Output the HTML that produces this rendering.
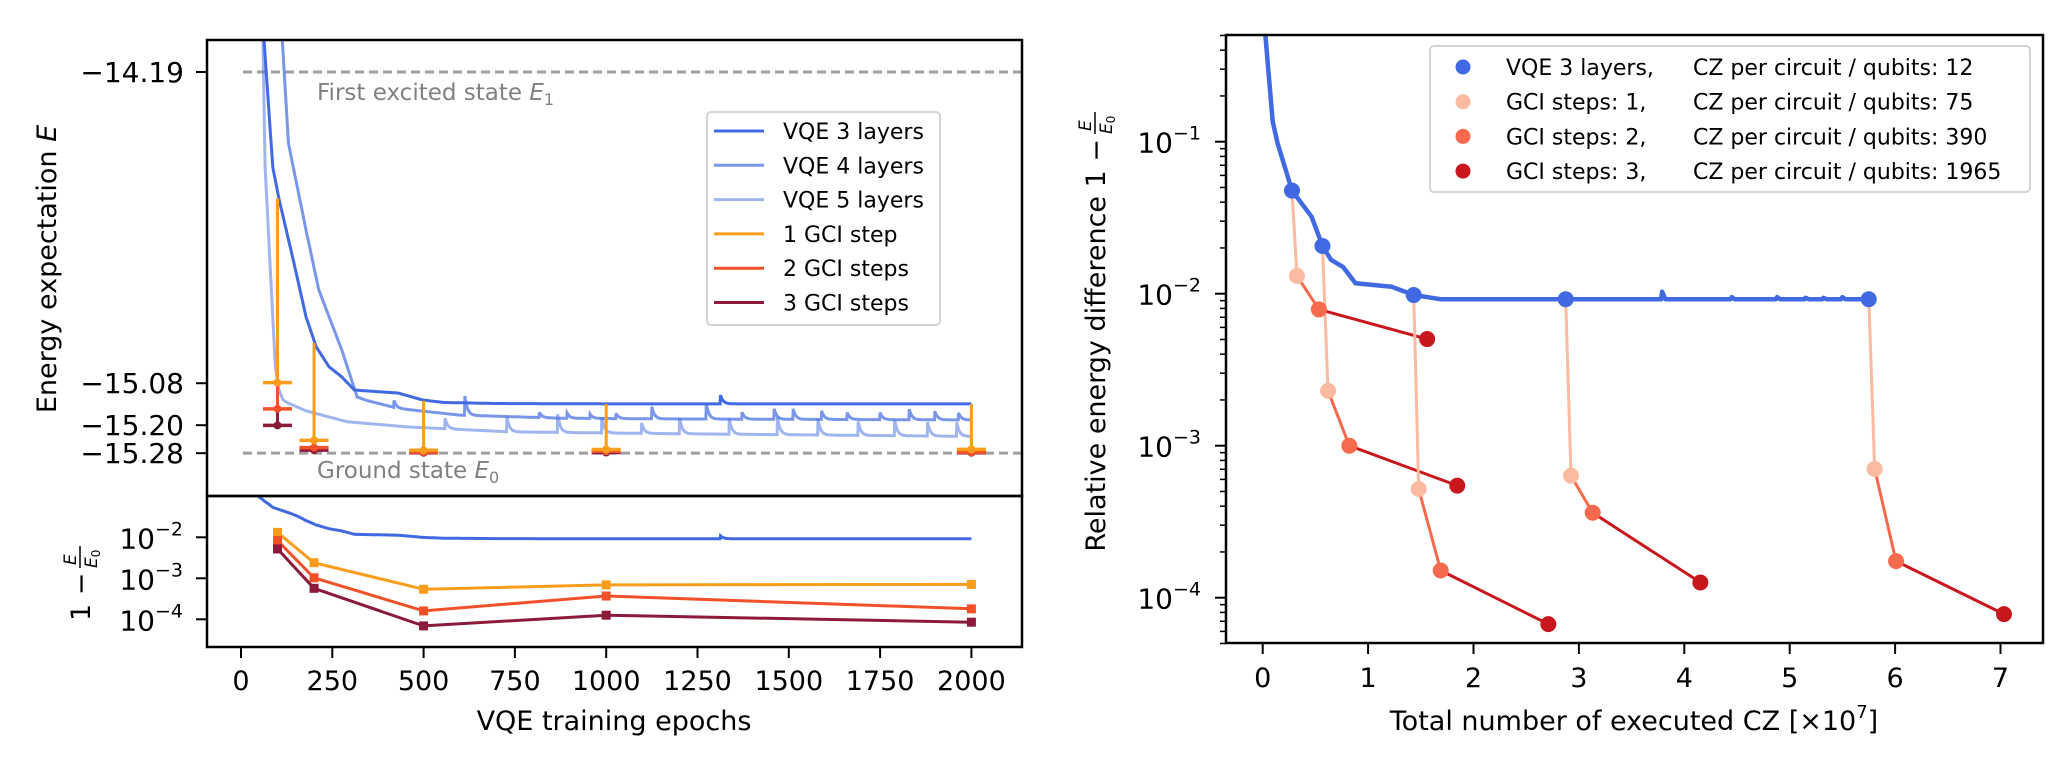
<!DOCTYPE html>
<html><head><meta charset="utf-8"><style>
html,body{margin:0;padding:0;background:#fff;}
svg{display:block;font-family:"DejaVu Sans","Liberation Sans",sans-serif;}
</style></head><body>
<svg id="fig" width="2053" height="759" viewBox="0 0 2053 759" xmlns="http://www.w3.org/2000/svg">
<defs>
<clipPath id="clipTL"><rect x="207" y="40" width="815" height="456"/></clipPath>
<clipPath id="clipBL"><rect x="207" y="496" width="815" height="151"/></clipPath>
<clipPath id="clipR"><rect x="1226" y="35" width="817" height="608"/></clipPath>
</defs>
</svg>
<script>
// ---------- Left chart data ----------
const E0 = -15.28;
const E1 = -14.19;
const energyTicks = [-14.19, -15.08, -15.20, -15.28];
const energyTickLabels = ["\u221214.19", "\u221215.08", "\u221215.20", "\u221215.28"];
const epochTicks = [0, 250, 500, 750, 1000, 1250, 1500, 1750, 2000];
const relTicksLeft = [-2, -3, -4];
const vqe3Epochs = [40, 63, 87, 104, 143, 178, 206, 241, 276, 310, 318, 430, 498, 555, 700, 1000, 2000];
const vqe3Energy = [-13.6, -14.098, -14.462, -14.553, -14.727, -14.89, -14.976, -15.033, -15.062, -15.099, -15.10, -15.108, -15.128, -15.135, -15.138, -15.139, -15.139];
const vqe3SpikeEpochs = [1313];
const vqe3SpikeHeights = [0.025];
const vqe4Epochs = [100, 113, 130, 178, 213, 276, 318, 340, 430, 597, 876, 1155, 2000];
const vqe4Energy = [-13.8, -14.098, -14.394, -14.642, -14.813, -14.985, -15.119, -15.128, -15.152, -15.171, -15.18, -15.182, -15.185];
const vqe4SpikeEpochs = [419, 613, 817, 893, 956, 1027, 1125, 1274, 1372, 1460, 1512, 1590, 1660, 1750, 1830, 1900, 1965];
const vqe4SpikeHeights = [0.02, 0.055, 0.015, 0.015, 0.012, 0.015, 0.035, 0.045, 0.02, 0.03, 0.03, 0.025, 0.02, 0.02, 0.03, 0.025, 0.02];
const vqe5Epochs = [45, 60, 66, 80, 94, 104, 115, 130, 178, 290, 457, 736, 1155, 2000];
const vqe5Energy = [-13.6, -14.098, -14.462, -14.748, -15.033, -15.099, -15.128, -15.137, -15.159, -15.19, -15.205, -15.219, -15.224, -15.232];
const vqe5SpikeEpochs = [559, 728, 867, 988, 1097, 1201, 1337, 1469, 1580, 1690, 1790, 1880, 1960];
const vqe5SpikeHeights = [0.03, 0.043, 0.052, 0.045, 0.03, 0.045, 0.045, 0.05, 0.045, 0.04, 0.045, 0.04, 0.04];
const gciEpochs = [100, 200, 500, 1000, 2000];
const vqeAtGci = [0.0477, 0.0206, 0.0098, 0.0092, 0.0092];
const gci1Left = [0.0132, 0.0024, 0.00054, 0.00069, 0.00071];
const gci2Left = [0.0083, 0.00103, 0.00016, 0.00037, 0.00018];
const gci3Left = [0.0052, 0.00057, 0.000069, 0.000126, 0.000085];

// ---------- Right chart data ----------
const czTicks = [0, 1, 2, 3, 4, 5, 6, 7];
const relTicksRight = [-1, -2, -3, -4];
const vqeCurveCZ = [0.026, 0.095, 0.14, 0.278, 0.464, 0.567, 0.648, 0.762, 0.88, 1.225, 1.433, 1.687, 2.875, 5.75];
const vqeCurveRel = [0.50, 0.1355, 0.098, 0.0477, 0.0321, 0.0206, 0.0167, 0.0150, 0.0117, 0.0111, 0.0098, 0.0092, 0.0092, 0.0092];
const vqeBlipCZ = [3.79, 4.45, 4.88, 5.15, 5.32, 5.5];
const vqeBlipRel = [0.0011, 0.0003, 0.0003, 0.0002, 0.0002, 0.0003];
const vqeMarkCZ = [0.278, 0.567, 1.433, 2.875, 5.75];
const vqeMarkRel = [0.0477, 0.0206, 0.0098, 0.0092, 0.0092];
const gci1CZ = [0.325, 0.62, 1.48, 2.925, 5.806];
const gci1Rel = [0.0131, 0.0023, 0.000519, 0.000635, 0.000703];
const gci2CZ = [0.533, 0.822, 1.689, 3.131, 6.009];
const gci2Rel = [0.00788, 0.001, 0.000151, 0.000362, 0.000174];
const gci3CZ = [1.56, 1.846, 2.71, 4.152, 7.033];
const gci3Rel = [0.00503, 0.000546, 0.000067, 0.000126, 0.000078];

const NS = "http://www.w3.org/2000/svg";
const svg = document.getElementById("fig");
function mk(tag, attrs, parent) {
  const el = document.createElementNS(NS, tag);
  for (const k in attrs) el.setAttribute(k, attrs[k]);
  (parent || svg).appendChild(el);
  return el;
}
// axis functions
const xL = e => 241 + e * 0.3652;
const yT = E => 72 + (E1 - E) * 349.7;
const yB = r => 537.3 - (Math.log10(r) + 2) * 41;
const xR = c => 1262.7 + c * 105.4;
const yR = r => 141.7 - (Math.log10(r) + 1) * 152;

const BLUE = "#4169e1", ORANGE = "#fa9c1c", RED = "#f05128", DARK = "#8c1a3a";
const SALMON = "#fcbba1", GCI2C = "#f86a4e", GCI3C = "#c9181d";

function interp(xs, ys, x) {
  if (x <= xs[0]) return ys[0];
  for (let i = 1; i < xs.length; i++) if (x <= xs[i]) { const t = (x - xs[i-1]) / (xs[i] - xs[i-1]); return ys[i-1] + t * (ys[i] - ys[i-1]); }
  return ys[ys.length - 1];
}
function dense(eps, en, sE, sH) {
  const pts = [];
  const set = new Set();
  for (let e = eps[0]; e <= 2000; e += 4) set.add(e);
  eps.forEach(e => set.add(e));
  sE.forEach(s => { set.add(s - 1); set.add(s); set.add(s + 1); });
  const arr = [...set].filter(e => e >= eps[0] && e <= 2000).sort((a, b) => a - b);
  arr.forEach(e => {
    let E = interp(eps, en, e);
    sE.forEach((s, i) => { if (e >= s) E += sH[i] * Math.exp(-(e - s) / 7); });
    pts.push([e, E]);
  });
  return pts;
}
function poly(pts, fx, fy) { return pts.map(p => fx(p[0]).toFixed(1) + "," + fy(p[1]).toFixed(1)).join(" "); }

// ================= LEFT TOP PANEL =================
const gTL = mk("g", {"clip-path": "url(#clipTL)"});


const dE1 = mk("line", {x1: 243, x2: 1022, y1: yT(E1), y2: yT(E1), stroke: "#a0a0a0", "stroke-width": 3, "stroke-dasharray": "9,5"}, gTL);


const dE0 = mk("line", {x1: 243, x2: 1022, y1: yT(E0), y2: yT(E0), stroke: "#a0a0a0", "stroke-width": 3, "stroke-dasharray": "9,5"}, gTL);



const v5 = dense(vqe5Epochs, vqe5Energy, vqe5SpikeEpochs, vqe5SpikeHeights);
const v4 = dense(vqe4Epochs, vqe4Energy, vqe4SpikeEpochs, vqe4SpikeHeights);
const v3 = dense(vqe3Epochs, vqe3Energy, vqe3SpikeEpochs, vqe3SpikeHeights);
const l5 = mk("polyline", {points: poly(v5, xL, yT), fill: "none", stroke: BLUE, "stroke-opacity": 0.5, "stroke-width": 3}, gTL);


const l4 = mk("polyline", {points: poly(v4, xL, yT), fill: "none", stroke: BLUE, "stroke-opacity": 0.7, "stroke-width": 3}, gTL);


const l3 = mk("polyline", {points: poly(v3, xL, yT), fill: "none", stroke: BLUE, "stroke-width": 3}, gTL);



const relToE = r => E0 * (1 - r);
gciEpochs.forEach((ep, i) => {
  const x = xL(ep);
  const segs = [[vqeAtGci[i], gci1Left[i], ORANGE], [gci1Left[i], gci2Left[i], RED], [gci2Left[i], gci3Left[i], DARK]];
  segs.forEach(s => {
    const ln = mk("line", {x1: x, x2: x, y1: yT(relToE(s[0])), y2: yT(relToE(s[1])), stroke: s[2], "stroke-width": 3}, gTL);
    
    
  });
  [[gci3Left[i], DARK], [gci2Left[i], RED], [gci1Left[i], ORANGE]].forEach(c => {
    const y = yT(relToE(c[0]));
    const cap = mk("line", {x1: x - 14.5, x2: x + 14.5, y1: y, y2: y, stroke: c[1], "stroke-width": 3.5}, gTL);
    
    
    const dot = mk("circle", {cx: x, cy: y, r: 4, fill: c[1]}, gTL);
    
    
  });
});

const t1 = mk("text", {x: 317, y: 100, "font-size": 23, fill: "#808080"});


t1.innerHTML = 'First excited state <tspan font-style="italic">E</tspan><tspan font-size="16" dy="5">1</tspan>';
const t0 = mk("text", {x: 317, y: 478, "font-size": 23, fill: "#808080"});


t0.innerHTML = 'Ground state <tspan font-style="italic">E</tspan><tspan font-size="16" dy="5">0</tspan>';

// left legend
const lg = mk("g", {});


const lgb = mk("rect", {x: 707, y: 112, width: 233, height: 213, rx: 4, fill: "#fff", "fill-opacity": 0.8, stroke: "#d4d4d4", "stroke-width": 2}, lg);


const legItems = [["VQE 3 layers", BLUE, 1], ["VQE 4 layers", BLUE, 0.7], ["VQE 5 layers", BLUE, 0.5], ["1 GCI step", ORANGE, 1], ["2 GCI steps", RED, 1], ["3 GCI steps", DARK, 1]];
legItems.forEach((it, i) => {
  const y = 131 + i * 34.3;
  const ln = mk("line", {x1: 714, x2: 764, y1: y, y2: y, stroke: it[1], "stroke-opacity": it[2], "stroke-width": 3}, lg);
  
  
  const tx = mk("text", {x: 783, y: y + 8, "font-size": 22, fill: "#000"}, lg);
  
  
  tx.textContent = it[0];
});

// left top axes frame + ticks
const fTL = mk("rect", {x: 207, y: 40, width: 815, height: 456, fill: "none", stroke: "#000", "stroke-width": 2.5});


energyTicks.forEach((E, i) => {
  const y = yT(E);
  const tk = mk("line", {x1: 196, x2: 207, y1: y, y2: y, stroke: "#000", "stroke-width": 2});
  
  
  const tl = mk("text", {x: 184, y: y + 10, "font-size": 28, "text-anchor": "end"});
  
  
  tl.textContent = energyTickLabels[i];
});
const ylab = mk("text", {transform: "translate(56,269) rotate(-90)", "font-size": 27, "text-anchor": "middle"});


ylab.innerHTML = 'Energy expectation <tspan font-style="italic">E</tspan>';

// ================= LEFT BOTTOM PANEL =================
const gBL = mk("g", {"clip-path": "url(#clipBL)"});


const relV3 = v3.map(p => [p[0], 1 - p[1] / E0]);
const bl3 = mk("polyline", {points: poly(relV3, xL, yB), fill: "none", stroke: BLUE, "stroke-width": 3}, gBL);


[[gci1Left, ORANGE, 'gci-1-step'], [gci2Left, RED, 'gci-2-steps'], [gci3Left, DARK, 'gci-3-steps']].forEach(s => {
  const pts = gciEpochs.map((e, i) => [e, s[0][i]]);
  const pl = mk("polyline", {points: poly(pts, xL, yB), fill: "none", stroke: s[1], "stroke-width": 3}, gBL);
  
  
  pts.forEach(p => {
    const m = mk("rect", {x: xL(p[0]) - 4.5, y: yB(p[1]) - 4.5, width: 9, height: 9, fill: s[1]}, gBL);
    
    
  });
});
const fBL = mk("rect", {x: 207, y: 496, width: 815, height: 151, fill: "none", stroke: "#000", "stroke-width": 2.5});


relTicksLeft.forEach(p => {
  const y = yB(Math.pow(10, p));
  const tk = mk("line", {x1: 196, x2: 207, y1: y, y2: y, stroke: "#000", "stroke-width": 2});
  
  
  const tl = mk("text", {x: 183, y: y + 11, "font-size": 28, "text-anchor": "end"});
  
  
  tl.innerHTML = '10<tspan font-size="19" dy="-13">\u2212' + (-p) + '</tspan>';
});
epochTicks.forEach(e => {
  const x = xL(e);
  const tk = mk("line", {x1: x, x2: x, y1: 647, y2: 658, stroke: "#000", "stroke-width": 2});
  
  
  const tl = mk("text", {x: x, y: 690, "font-size": 27, "text-anchor": "middle"});
  
  
  tl.textContent = e;
});
const xlabL = mk("text", {x: 614, y: 730, "font-size": 27, "text-anchor": "middle"});


xlabL.textContent = "VQE training epochs";
const fl = mk("g", {transform: "translate(80,571) rotate(-90)"});


fl.innerHTML = '<text x="-50" y="10" font-size="27">1 \u2212</text><text x="6" y="-4" font-size="17" font-style="italic">E</text><line x1="3" x2="25" y1="0" y2="0" stroke="#000" stroke-width="1.5"/><text x="3" y="17" font-size="17" font-style="italic">E<tspan font-size="12" font-style="normal" dy="3">0</tspan></text>';

// ================= RIGHT PANEL =================
const gR = mk("g", {"clip-path": "url(#clipR)"});


// VQE curve with blips
const rc = [];
vqeCurveCZ.forEach((c, i) => rc.push([c, vqeCurveRel[i]]));
vqeBlipCZ.forEach((c, i) => { rc.push([c - 0.01, 0.0092]); rc.push([c, 0.0092 + vqeBlipRel[i]]); rc.push([c + 0.03, 0.0092]); });
rc.sort((a, b) => a[0] - b[0]);
const rv = mk("polyline", {points: poly(rc, xR, yR), fill: "none", stroke: BLUE, "stroke-width": 4.5, "stroke-linejoin": "round"}, gR);


vqeMarkCZ.forEach((c, i) => {
  const a = mk("polyline", {points: poly([[c, vqeMarkRel[i]], [gci1CZ[i], gci1Rel[i]]], xR, yR), fill: "none", stroke: SALMON, "stroke-width": 3}, gR);
  
  
  const b = mk("polyline", {points: poly([[gci1CZ[i], gci1Rel[i]], [gci2CZ[i], gci2Rel[i]]], xR, yR), fill: "none", stroke: GCI2C, "stroke-width": 3}, gR);
  
  
  const d = mk("polyline", {points: poly([[gci2CZ[i], gci2Rel[i]], [gci3CZ[i], gci3Rel[i]]], xR, yR), fill: "none", stroke: GCI3C, "stroke-width": 3}, gR);
  
  
});
[[vqeMarkCZ, vqeMarkRel, BLUE, 'vqe-marker'], [gci1CZ, gci1Rel, SALMON, 'gci-1-step-marker'], [gci2CZ, gci2Rel, GCI2C, 'gci-2-steps-marker'], [gci3CZ, gci3Rel, GCI3C, 'gci-3-steps-marker']].forEach(s => {
  s[0].forEach((c, i) => {
    const m = mk("circle", {cx: xR(c), cy: yR(s[1][i]), r: 8, fill: s[2]}, gR);
    
    
  });
});
// right legend
const rl = mk("g", {});


const rlb = mk("rect", {x: 1430, y: 46, width: 600, height: 146, rx: 4, fill: "#fff", "fill-opacity": 0.8, stroke: "#d4d4d4", "stroke-width": 2}, rl);


const rItems = [["VQE 3 layers,", "12", BLUE], ["GCI steps: 1,", "75", SALMON], ["GCI steps: 2,", "390", GCI2C], ["GCI steps: 3,", "1965", GCI3C]];
rItems.forEach((it, i) => {
  const y = 67 + i * 34.7;
  const c = mk("circle", {cx: 1463, cy: y, r: 7.5, fill: it[2]}, rl);
  
  
  const a = mk("text", {x: 1506, y: y + 8, "font-size": 22}, rl);
  
  
  a.textContent = it[0];
  const b = mk("text", {x: 1693, y: y + 8, "font-size": 22}, rl);
  
  
  b.textContent = "CZ per circuit / qubits: " + it[1];
});
const fR = mk("rect", {x: 1226, y: 35, width: 817, height: 608, fill: "none", stroke: "#000", "stroke-width": 2.5});


// y ticks major + minor
for (let p = -5; p <= 0; p++) {
  for (let m = 1; m <= 9; m++) {
    const v = m * Math.pow(10, p);
    const y = yR(v);
    if (y < 35 || y > 643.5) continue;
    const tk = mk("line", {x1: m === 1 ? 1215 : 1220, x2: 1226, y1: y, y2: y, stroke: "#000", "stroke-width": m === 1 ? 2 : 1.5});
    
    
  }
}
relTicksRight.forEach(p => {
  const y = yR(Math.pow(10, p));
  const tl = mk("text", {x: 1201, y: y + 11, "font-size": 28, "text-anchor": "end"});
  
  
  tl.innerHTML = '10<tspan font-size="19" dy="-13">\u2212' + (-p) + '</tspan>';
});
czTicks.forEach(c => {
  const x = xR(c);
  const tk = mk("line", {x1: x, x2: x, y1: 643, y2: 654, stroke: "#000", "stroke-width": 2});
  
  
  const tl = mk("text", {x: x, y: 687, "font-size": 27, "text-anchor": "middle"});
  
  
  tl.textContent = c;
});
const xlabR = mk("text", {x: 1634, y: 730, "font-size": 27, "text-anchor": "middle"});


xlabR.innerHTML = 'Total number of executed CZ [\u00d710<tspan font-size="18" dy="-12">7</tspan><tspan dy="12">]</tspan>';
const rlab = mk("g", {transform: "translate(1095,339) rotate(-90)"});


rlab.innerHTML = '<text x="200" y="10" font-size="27" text-anchor="end">Relative energy difference 1 \u2212</text><text x="208" y="-4" font-size="17" font-style="italic">E</text><line x1="205" x2="227" y1="0" y2="0" stroke="#000" stroke-width="1.5"/><text x="205" y="17" font-size="17" font-style="italic">E<tspan font-size="12" font-style="normal" dy="3">0</tspan></text>';
</script>
</body></html>
